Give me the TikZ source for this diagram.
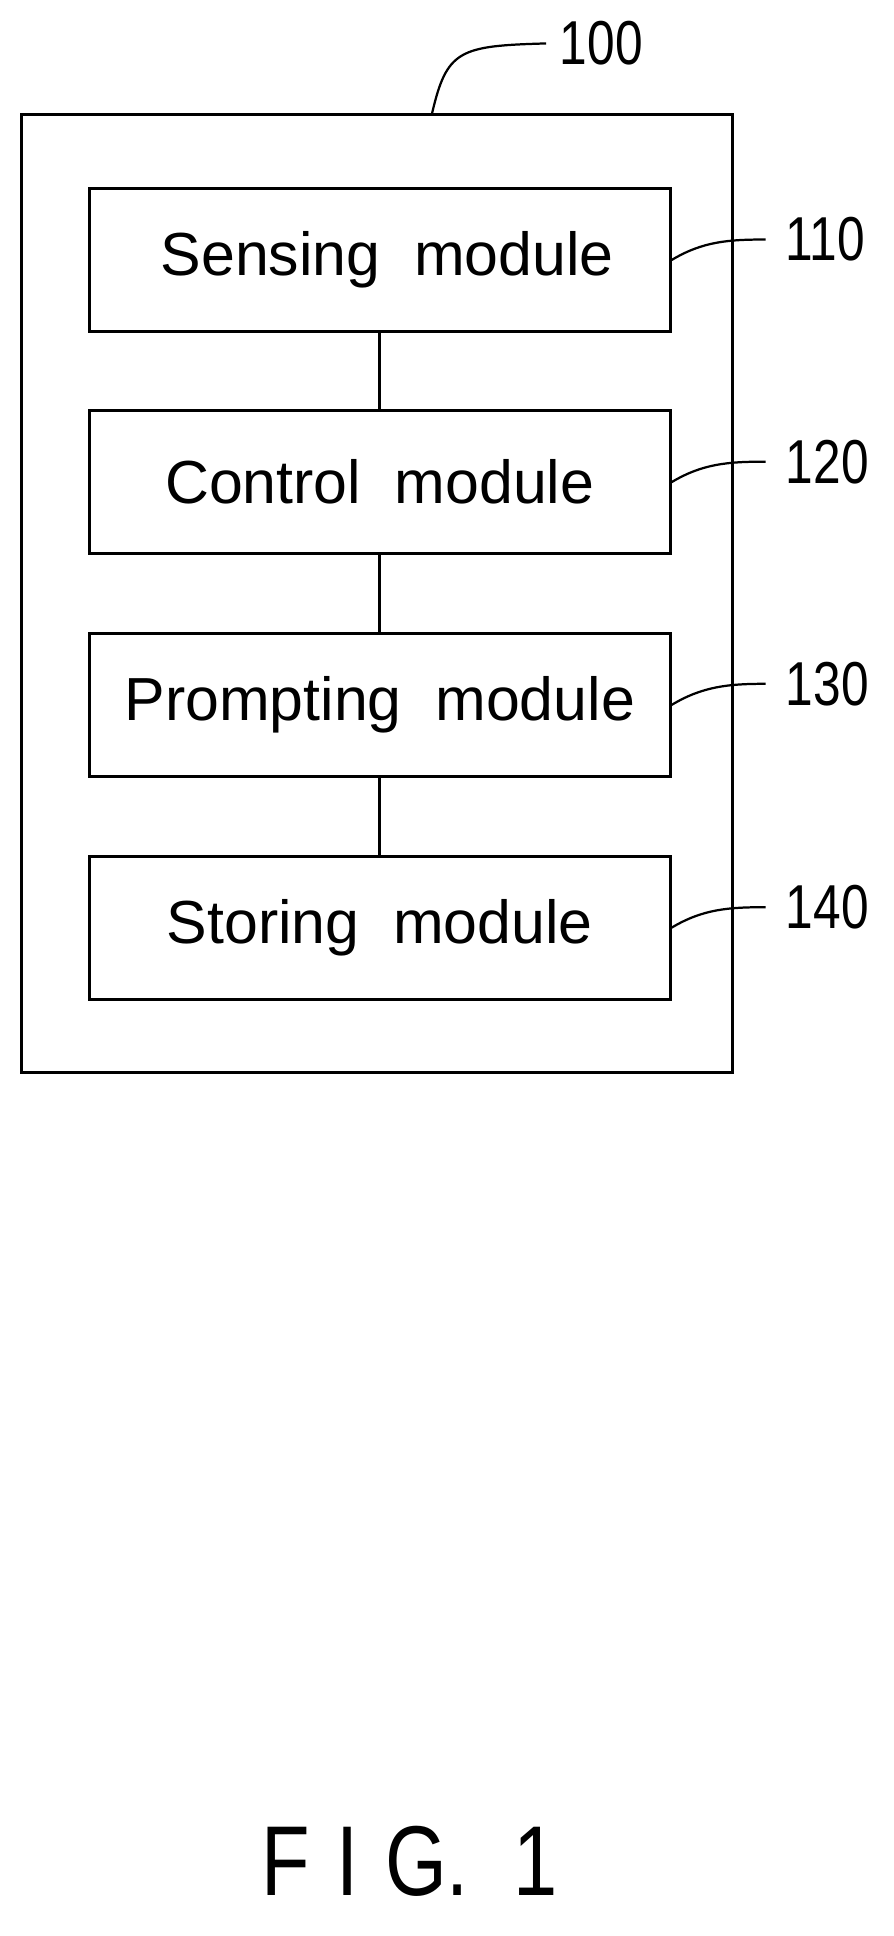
\documentclass[tikz,border=0pt]{standalone}
\usepackage{fontspec}
\setmainfont{Liberation Sans}
\begin{document}
\begin{tikzpicture}[x=1pt,y=-1pt,line width=2.4pt,
  mod/.style={draw,minimum width=468pt,minimum height=115pt,inner sep=0pt,font=\fontsize{49}{52}\selectfont},
  lab/.style={font=\fontsize{50}{54}\selectfont,anchor=west,inner sep=0pt}]
\useasboundingbox (0,0) rectangle (720,1560);
\node[draw,minimum width=573pt,minimum height=772pt,inner sep=0pt] (outer) at (303.5,478) {};
\node[mod] (m1) at (306,209.5) {\hspace{12pt}Sensing\ \ module};
\node[mod] (m2) at (306,388.5) {Control\ \ module};
\node[mod] (m3) at (306,568) {Prompting\ \ module};
\node[mod] (m4) at (306,747.5) {Storing\ \ module};
\draw (m1) -- (m2); \draw (m2) -- (m3); \draw (m3) -- (m4);
\node[lab] (l100) at (450,35) {\scalebox{0.8}[1]{100}};
\node[lab] (l110) at (632,193) {\scalebox{0.8}[1]{110}};
\node[lab] (l120) at (632,372) {\scalebox{0.8}[1]{120}};
\node[lab] (l130) at (632,551) {\scalebox{0.8}[1]{130}};
\node[lab] (l140) at (632,731) {\scalebox{0.8}[1]{140}};
\coordinate (c100) at (348,92);
\draw[line width=1.8pt] (c100) .. controls (360,40) and (370,37) .. ([xshift=-10pt]l100.west);
\foreach \i in {1,2,3,4}{
  \draw[line width=1.8pt] (m\i.east) .. controls +(25,-15) and +(-30,0) .. ([xshift=-15pt]l1\i0.west);
}
\node[font=\fontsize{80}{90}\selectfont, inner sep=0pt] (fig) at (330,1500) {\scalebox{0.8}[1]{F\,\,I\,\,G.\ \ 1}};
\end{tikzpicture}
\end{document}
